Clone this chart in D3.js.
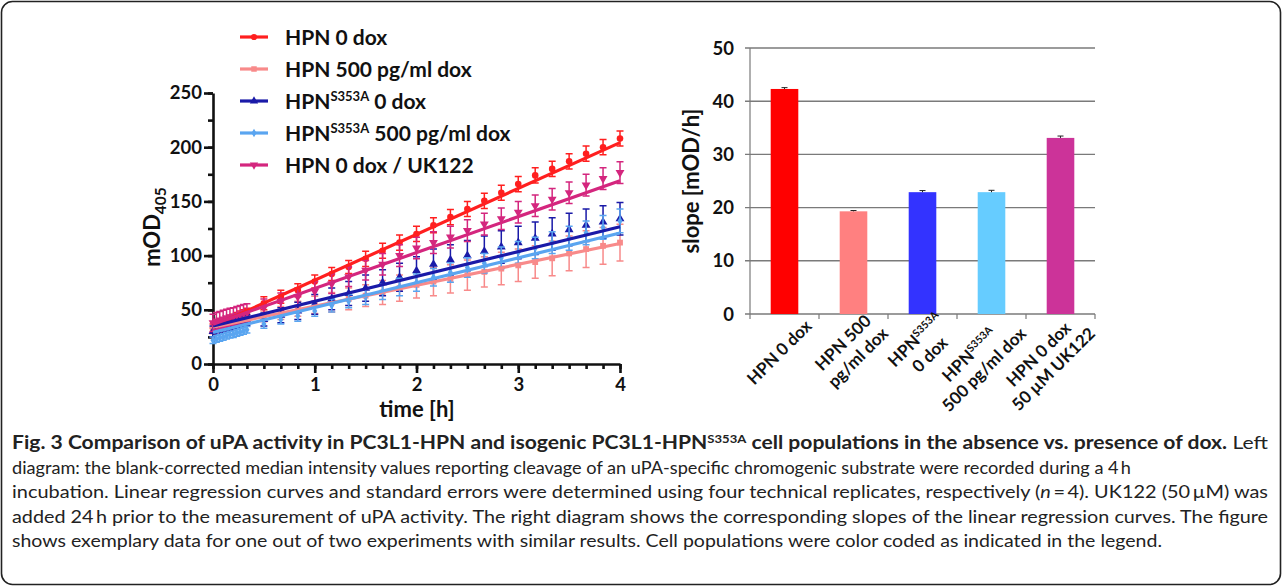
<!DOCTYPE html>
<html>
<head>
<meta charset="utf-8">
<script src="https://cdn.jsdelivr.net/npm/d3@7"></script>
<style>
  body { margin: 0; background: #fff; }
  svg { display: block; font-family: Lato, "Open Sans", sans-serif; }
</style>
</head>
<body>
<script>
// ---- data: kinetics (left panel) ----
var timeMin = [0, 2, 4, 6, 8, 10, 12, 14, 16, 18, 20, 30, 40, 50, 60, 70, 80, 90, 100, 110, 120,
  130, 140, 150, 160, 170, 180, 190, 200, 210, 220, 230, 240];

var seriesNames = ["HPN 0 dox", "HPN 500 pg/ml dox", "HPN^S353A 0 dox", "HPN^S353A 500 pg/ml dox", "HPN 0 dox / UK122"];

var hpn0 = [33, 34.5, 36, 37, 38.5, 40, 41, 42.5, 44, 45, 46.5, 56, 62, 68, 76, 83, 89.5, 97, 104.5, 112, 120,
  128, 135.5, 143, 150.5, 158, 166, 174, 180, 187, 194, 200, 208];
var hpn0Err = [4, 4, 4, 4, 5, 5, 5, 5, 5, 5, 5, 6, 6, 6, 6, 6, 6, 7, 7, 7, 7, 7, 7, 7, 7, 7, 7, 7, 7, 7, 7, 7, 7];

var hpn500 = [31, 32, 33, 34, 35, 36, 36.5, 37.5, 38.5, 39.5, 40.5, 44, 47, 51, 54.5, 57, 60, 63, 66, 70, 73,
  76, 78.5, 82, 85, 88, 91, 94, 97.5, 102, 106, 109, 112];
var hpn500Err = [3, 3, 3, 3, 3, 3, 3, 3, 3, 3, 3, 5, 6, 7, 8, 9, 10, 10, 11, 12, 12, 13, 13, 14, 14, 15, 15, 15, 16, 16, 17, 17, 17];

var s353a0 = [30, 31.5, 32.5, 33.5, 34.5, 35.5, 36.5, 37.5, 38.5, 39.5, 40.5, 41, 45, 49, 55, 60, 65, 70, 75, 80, 86,
  92, 96, 100, 104, 108, 112, 116, 120, 124, 128, 131, 134];
var s353a0Err = [5, 5, 5, 5, 5, 5, 5, 5, 5, 5, 5, 6, 7, 8, 9, 10, 11, 12, 12, 13, 13, 14, 14, 14, 14, 15, 15, 15, 15, 15, 15, 15, 15];

var s353a500 = [22, 23, 24, 25, 26, 27, 27.5, 28.5, 29.5, 30.5, 31.5, 37, 41, 44.5, 49, 54, 58, 62, 66.5, 71, 75,
  80, 84.5, 89, 93, 98, 103, 107, 112, 116, 121, 126, 132];
var s353a500Err = [3, 3, 3, 3, 3, 3, 3, 3, 3, 3, 3, 4, 4, 5, 5, 6, 6, 7, 7, 8, 8, 8, 9, 9, 9, 10, 10, 10, 10, 11, 11, 11, 11];

var uk122 = [38, 39.5, 40.5, 41.5, 42.5, 43.5, 44, 45, 46, 47, 47.5, 52, 57.5, 62, 67, 74, 80.5, 86.5, 92, 100, 107,
  112, 117, 123, 129, 134, 140, 146, 152, 158, 165, 171, 176.5];
var uk122Err = [8, 8, 8, 8, 8, 8, 8, 8, 8, 8, 8, 8, 8, 8, 9, 9, 9, 9, 10, 10, 10, 10, 10, 10, 10, 10, 10, 10, 10, 10, 10, 10, 10];

// regression intercepts (mOD at t = 0); slopes come from the bar panel
var intercepts = [35, 34, 35, 29.2, 36.6];

// ---- data: slopes (right panel) ----
var barLabels = [["HPN 0 dox"], ["HPN 500", "pg/ml dox"], ["HPN^S353A", "0 dox"],
  ["HPN^S353A", "500 pg/ml dox"], ["HPN 0 dox", "50 \u00b5M UK122"]];
var slopes = [42.3, 19.3, 22.9, 22.9, 33.1];
var slopeErr = [0.25, 0.15, 0.3, 0.35, 0.35];

var yTicksLeft = [0, 50, 100, 150, 200, 250];
var xTicksLeft = [0, 1, 2, 3, 4];
var yTicksRight = [0, 10, 20, 30, 40, 50];

// ---- caption ----
var captionTitle = "Fig. 3 Comparison of uPA activity in PC3L1-HPN and isogenic PC3L1-HPN^S353A cell populations in the absence vs. presence of dox.";
var captionLines = [
  " Left",
  "diagram: the blank-corrected median intensity values reporting cleavage of an uPA-specific chromogenic substrate were recorded during a 4\u2009h",
  "incubation. Linear regression curves and standard errors were determined using four technical replicates, respectively (_n_\u2009=\u20094). UK122 (50\u2009\u00b5M) was",
  "added 24\u2009h prior to the measurement of uPA activity. The right diagram shows the corresponding slopes of the linear regression curves. The figure",
  "shows exemplary data for one out of two experiments with similar results. Cell populations were color coded as indicated in the legend."
];
var captionWidths = [1256, 1119, 1256, 1256, 1150];

var lineColors = ["#ff1f1f", "#f88a8a", "#1a1aa8", "#5aa5f0", "#d4267e"];
var barColors = ["#ff0000", "#ff8080", "#3333ff", "#66ccff", "#cc3399"];
var symbols = [d3.symbolCircle, d3.symbolSquare, d3.symbolTriangle, d3.symbolDiamond, d3.symbolTriangle];

var series = [
  {v: hpn0, e: hpn0Err},
  {v: hpn500, e: hpn500Err},
  {v: s353a0, e: s353a0Err},
  {v: s353a500, e: s353a500Err},
  {v: uk122, e: uk122Err}
];

var width = 1282, height = 588;

var svg = d3.select("body").append("svg")
    .attr("width", width)
    .attr("height", height);

// text with ^superscript and _italic_ pieces
function addRich(sel, str, fs) {
  str.split(/(\^\S+|_\w_)/).forEach(function(p) {
    if (!p) return;
    if (p[0] === "^") {
      sel.append("tspan").attr("font-size", fs * 0.62).attr("baseline-shift", fs * 0.36).text(p.slice(1));
    } else if (p[0] === "_") {
      sel.append("tspan").attr("font-style", "italic").text(p.slice(1, -1));
    } else {
      sel.append("tspan").text(p);
    }
  });
}

// frame
svg.append("rect")
    .attr("x", 1.5).attr("y", 1.5)
    .attr("width", width - 3).attr("height", height - 5)
    .attr("rx", 11)
    .attr("fill", "none")
    .attr("stroke", "#222")
    .attr("stroke-width", 1.6);

// ================= left panel =================
var x = d3.scaleLinear().domain([0, 4]).range([213, 620]);
var y = d3.scaleLinear().domain([0, 250]).range([364, 93]);

var left = svg.append("g");

// minor ticks
left.append("g")
    .attr("transform", "translate(0,364)")
    .call(d3.axisBottom(x).tickValues(d3.range(0, 4.001, 1 / 6)).tickSize(5).tickFormat(""))
    .call(function(g) { g.select(".domain").remove(); });
left.append("g")
    .attr("transform", "translate(213,0)")
    .call(d3.axisLeft(y).tickValues(d3.range(0, 251, 25)).tickSize(5).tickFormat(""))
    .call(function(g) { g.select(".domain").remove(); });

// major axes
left.append("g")
    .attr("transform", "translate(0,364)")
    .call(d3.axisBottom(x).tickValues(xTicksLeft).tickSize(9).tickSizeOuter(0).tickPadding(5).tickFormat(d3.format("d")));
left.append("g")
    .attr("transform", "translate(213,0)")
    .call(d3.axisLeft(y).tickValues(yTicksLeft).tickSize(9).tickSizeOuter(0).tickPadding(2));

left.selectAll(".tick line, .domain")
    .attr("stroke", "#111")
    .attr("stroke-width", 2.6);
left.selectAll(".tick text")
    .attr("font-family", "Lato")
    .attr("font-weight", 700)
    .attr("font-size", 18.5)
    .attr("fill", "#111");

// axis titles
var yTitle = left.append("text")
    .attr("transform", "translate(160,227) rotate(-90)")
    .attr("text-anchor", "middle")
    .attr("font-weight", 700)
    .attr("font-size", 22)
    .attr("fill", "#111");
yTitle.append("tspan").text("mOD");
yTitle.append("tspan").attr("font-size", 15.5).attr("baseline-shift", -6).text("405");

left.append("text")
    .attr("x", 417).attr("y", 417)
    .attr("text-anchor", "middle")
    .attr("font-weight", 700)
    .attr("font-size", 22)
    .attr("fill", "#111")
    .text("time [h]");

// error bars and points
series.forEach(function(s, k) {
  var g = left.append("g")
      .attr("stroke", lineColors[k])
      .attr("fill", lineColors[k]);
  var pts = timeMin.map(function(t, i) { return {t: t / 60, v: s.v[i], e: s.e[i]}; });

  g.selectAll(".eb")
      .data(pts)
    .enter().append("path")
      .attr("fill", "none")
      .attr("stroke-width", 1.5)
      .attr("d", function(d) {
        var cx = x(d.t), y0 = y(d.v - d.e), y1 = y(d.v + d.e);
        return "M" + cx + "," + y0 + "V" + y1 +
          "M" + (cx - 3.5) + "," + y1 + "H" + (cx + 3.5) +
          "M" + (cx - 3.5) + "," + y0 + "H" + (cx + 3.5);
      });

  g.selectAll(".pt")
      .data(pts)
    .enter().append("path")
      .attr("stroke", "none")
      .attr("d", d3.symbol().type(symbols[k]).size(k === 3 ? 22 : 34))
      .attr("transform", function(d) {
        return "translate(" + x(d.t) + "," + y(d.v) + ")" + (k === 4 ? " rotate(180)" : "");
      });
});

// regression lines
series.forEach(function(s, k) {
  left.append("line")
      .attr("x1", x(0)).attr("y1", y(intercepts[k]))
      .attr("x2", x(4)).attr("y2", y(intercepts[k] + slopes[k] * 4))
      .attr("stroke", lineColors[k])
      .attr("stroke-width", 3.2);
});

// legend
var legendY = [37, 69, 101, 133, 165];
seriesNames.forEach(function(name, k) {
  var g = left.append("g").attr("transform", "translate(0," + legendY[k] + ")");
  g.append("line")
      .attr("x1", 240).attr("x2", 268)
      .attr("stroke", lineColors[k])
      .attr("stroke-width", 3.2);
  g.append("path")
      .attr("fill", lineColors[k])
      .attr("d", d3.symbol().type(symbols[k]).size(k === 3 ? 22 : 30))
      .attr("transform", "translate(254,0)" + (k === 4 ? " rotate(180)" : ""));
  var t = g.append("text")
      .attr("x", 285).attr("y", 7.5)
      .attr("font-weight", 700)
      .attr("font-size", 21)
      .attr("fill", "#111");
  addRich(t, name, 21);
});

// ================= right panel =================
var xb = d3.scaleBand().domain(d3.range(slopes.length)).range([750, 1095])
    .paddingInner(0.6).paddingOuter(0.3);
var yb = d3.scaleLinear().domain([0, 50]).range([314, 48]);

var right = svg.append("g");

// gridlines
right.selectAll(".grid")
    .data(yTicksRight)
  .enter().append("line")
    .attr("x1", 745).attr("x2", 1095)
    .attr("y1", function(d) { return yb(d); })
    .attr("y2", function(d) { return yb(d); })
    .attr("stroke", "#7a7a7a")
    .attr("stroke-width", 1.4);

right.append("line")
    .attr("x1", 750).attr("x2", 750)
    .attr("y1", yb(50)).attr("y2", yb(0))
    .attr("stroke", "#7a7a7a")
    .attr("stroke-width", 1.2);

// category boundary ticks
var step = xb.step();
right.selectAll(".bt")
    .data(d3.range(slopes.length + 1))
  .enter().append("line")
    .attr("x1", function(i) { return 750 + i * step; })
    .attr("x2", function(i) { return 750 + i * step; })
    .attr("y1", yb(0)).attr("y2", yb(0) + 5)
    .attr("stroke", "#7a7a7a")
    .attr("stroke-width", 1.2);

right.selectAll(".ylab")
    .data(yTicksRight)
  .enter().append("text")
    .attr("x", 734)
    .attr("y", function(d) { return yb(d) + 6.5; })
    .attr("text-anchor", "end")
    .attr("font-weight", 700)
    .attr("font-size", 18.5)
    .attr("fill", "#111")
    .text(function(d) { return d; });

right.append("text")
    .attr("transform", "translate(699,181) rotate(-90)")
    .attr("text-anchor", "middle")
    .attr("font-weight", 700)
    .attr("font-size", 22)
    .attr("fill", "#111")
    .text("slope [mOD/h]");

// bars
right.selectAll(".bar")
    .data(slopes)
  .enter().append("rect")
    .attr("x", function(d, i) { return xb(i); })
    .attr("width", xb.bandwidth())
    .attr("y", function(d) { return yb(d); })
    .attr("height", function(d) { return yb(0) - yb(d); })
    .attr("fill", function(d, i) { return barColors[i]; });

// error bars
right.selectAll(".berr")
    .data(slopes)
  .enter().append("path")
    .attr("fill", "none")
    .attr("stroke", "#222")
    .attr("stroke-width", 1)
    .attr("d", function(d, i) {
      var cx = xb(i) + xb.bandwidth() / 2, y1 = yb(d + slopeErr[i]);
      return "M" + cx + "," + yb(d) + "V" + y1 + "M" + (cx - 3) + "," + y1 + "H" + (cx + 3);
    });

// rotated category labels
barLabels.forEach(function(lines, i) {
  var g = right.append("g")
      .attr("transform", "translate(" + (xb(i) + xb.bandwidth() / 2 + 24) + ",323) rotate(-45)");
  var texts = lines.map(function(l, j) {
    var t = g.append("text")
        .attr("y", (j - (lines.length - 1) / 2) * 21 + 6)
        .attr("text-anchor", "middle")
        .attr("font-weight", 700)
        .attr("font-size", 17)
        .attr("fill", "#111");
    addRich(t, l, 17);
    return t;
  });
  var wMax = d3.max(texts, function(t) { return t.node().getComputedTextLength(); });
  texts.forEach(function(t) { t.attr("x", -wMax / 2); });
});

// ================= caption =================
var cap = svg.append("g")
    .attr("font-size", 18)
    .attr("fill", "#222");
var baseY = [449, 474, 498, 523, 547];
captionLines.forEach(function(line, i) {
  var t = cap.append("text")
      .attr("x", 12).attr("y", baseY[i])
      .attr("textLength", captionWidths[i])
      .attr("lengthAdjust", "spacingAndGlyphs");
  if (i === 0) {
    var b = t.append("tspan").attr("font-weight", 700);
    addRich(b, captionTitle, 18);
  }
  addRich(t, line, 18);
});
</script>
</body>
</html>
